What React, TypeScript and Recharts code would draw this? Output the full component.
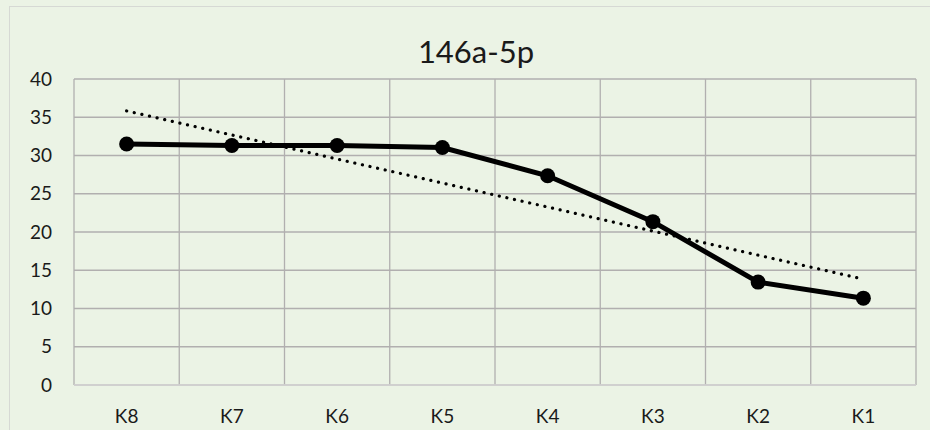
import React from "react";
import {
  LineChart,
  Line,
  XAxis,
  YAxis,
  CartesianGrid,
} from "recharts";

// values
const categories = ["K8", "K7", "K6", "K5", "K4", "K3", "K2", "K1"];
const values = [31.5, 31.3, 31.3, 31.05, 27.35, 21.35, 13.45, 11.35];
const yTicks = [0, 5, 10, 15, 20, 25, 30, 35, 40];

// linear trendline (least squares over the series, like the spreadsheet one)
function linearTrend(ys: number[]) {
  const n = ys.length;
  const xs = ys.map((_, i) => i + 1);
  const mx = xs.reduce((a, b) => a + b, 0) / n;
  const my = ys.reduce((a, b) => a + b, 0) / n;
  let sxy = 0;
  let sxx = 0;
  xs.forEach((x, i) => {
    sxy += (x - mx) * (ys[i] - my);
    sxx += (x - mx) * (x - mx);
  });
  const slope = sxy / sxx;
  return xs.map((x) => my + slope * (x - mx));
}

const trend = linearTrend(values);

const data = categories.map((name, i) => ({
  name,
  value: values[i],
  trend: trend[i],
}));

const FONT = "Lato, 'Open Sans', sans-serif";

export default function App() {
  return (
    <div
      style={{
        position: "absolute",
        left: 0,
        top: 0,
        width: 930,
        height: 430,
        background: "#ebf3e5",
        fontFamily: FONT,
        overflow: "hidden",
      }}
    >
      {/* chart area frame */}
      <div
        style={{
          position: "absolute",
          left: 9,
          top: 6,
          width: 940,
          height: 440,
          borderTop: "1.5px solid #d6d9d4",
          borderLeft: "1.5px solid #d6d9d4",
        }}
      />
      <div
        style={{
          position: "absolute",
          left: 0,
          width: 952,
          top: 33,
          textAlign: "center",
          fontSize: 31,
          color: "#1a1a1a",
          lineHeight: "36px",
        }}
      >
        146a-5p
      </div>
      <LineChart
        width={930}
        height={430}
        data={data}
        margin={{ top: 79, right: 14, bottom: 0, left: 14 }}
        style={{ position: "absolute", left: 0, top: 0 }}
      >
        <CartesianGrid
          stroke="#b1afaf"
          strokeWidth={1.3}
          verticalCoordinatesGenerator={({ offset }: any) =>
            Array.from({ length: categories.length + 1 }, (_, i) =>
              offset.left + (i * offset.width) / categories.length
            )
          }
        />
        <XAxis
          dataKey="name"
          scale="band"
          axisLine={{ stroke: "#d6d6d6", strokeWidth: 1.5 }}
          tickLine={false}
          tickSize={0}
          tickMargin={25}
          height={45}
          interval={0}
          tick={{ fill: "#1a1a1a", fontSize: 19, fontFamily: FONT }}
        />
        <YAxis
          domain={[0, 40]}
          ticks={yTicks}
          width={60}
          axisLine={false}
          tickLine={false}
          tickSize={0}
          tickMargin={22}
          interval={0}
          tick={{ fill: "#1a1a1a", fontSize: 19, fontFamily: FONT }}
        />
        <Line
          type="linear"
          dataKey="trend"
          stroke="#000"
          strokeWidth={3.2}
          strokeDasharray="0.1 7.7"
          strokeLinecap="round"
          dot={false}
          activeDot={false}
          isAnimationActive={false}
        />
        <Line
          type="linear"
          dataKey="value"
          stroke="#000"
          strokeWidth={5}
          dot={{ r: 7.5, fill: "#000", stroke: "#000", strokeWidth: 0 }}
          activeDot={false}
          isAnimationActive={false}
        />
      </LineChart>
    </div>
  );
}
